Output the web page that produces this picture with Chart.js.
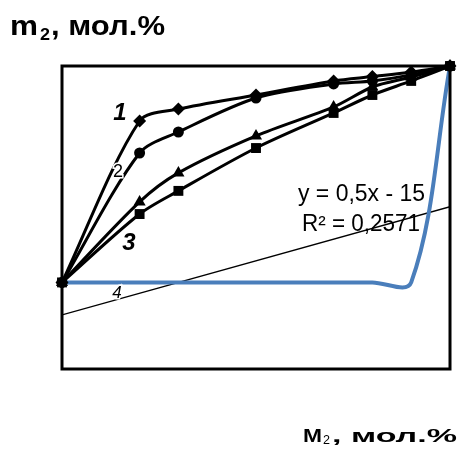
<!DOCTYPE html>
<html>
<head>
<meta charset="utf-8">
<script src="https://cdn.jsdelivr.net/npm/chart.js@4.4.0/dist/chart.umd.min.js"></script>
<style>
  html, body { margin: 0; padding: 0; background: #fff; }
  #wrap { position: relative; width: 457px; height: 450px; }
</style>
</head>
<body>
<div id="wrap"><canvas id="chart" width="457" height="450"></canvas></div>
<script>
// data (x = M2, y = m2, mol.%)
const xValues = [0, 20, 30, 50, 70, 80, 90, 100];
const diamonds = [0, 74.6, 80.1, 86.6, 93.1, 95.1, 97.2, 100];
const circles = [0, 59.8, 69.5, 85.2, 91.7, 93.1, 95.9, 100];
const triangles = [0, 37.2, 50.6, 67.7, 81.1, 90.3, 94.9, 100];
const squares = [0, 31.6, 42.3, 62.1, 78.3, 86.6, 93.1, 100];
const blueCurve = [0, 0, 0, 0, 0, 0, 0, 100];
const trendX = [0, 100];
const trendY = [-15, 35];
const curveLabels = ['1', '2', '3', '4'];

const FONT = '"Liberation Sans", Arial, sans-serif';

function pts(xs, ys) {
    return xs.map((x, i) => ({ x: x, y: ys[i] }));
}

function blackSeries(ys, style, radius) {
    return {
        data: pts(xValues, ys),
        borderColor: '#000',
        backgroundColor: '#000',
        borderWidth: 3,
        pointStyle: style,
        pointRadius: radius,
        pointBorderWidth: 0,
        tension: 0.3,
        clip: false
    };
}

// draw text squeezed/stretched to a given width
function fitText(ctx, text, font, x, y, width) {
    ctx.font = font;
    const w = ctx.measureText(text).width;
    ctx.save();
    ctx.translate(x, y);
    ctx.scale(width / w, 1);
    ctx.fillText(text, 0, 0);
    ctx.restore();
}

// frame + free text
const extras = {
    id: 'extras',
    afterDatasetsDraw(chart) {
        const ctx = chart.ctx;
        const a = chart.chartArea;
        ctx.save();
        ctx.strokeStyle = '#000';
        ctx.lineWidth = 3;
        ctx.strokeRect(a.left, a.top, a.right - a.left, a.bottom - a.top);

        ctx.fillStyle = '#000';
        ctx.textBaseline = 'alphabetic';
        ctx.textAlign = 'left';
        fitText(ctx, 'y = 0,5x - 15', '23px ' + FONT, 298, 201, 127);
        fitText(ctx, 'R² = 0,2571', '23px ' + FONT, 302, 231, 118);

        ctx.textAlign = 'center';
        ctx.textBaseline = 'middle';
        ctx.font = 'italic bold 24px ' + FONT;
        ctx.fillText(curveLabels[0], 120, 113);
        ctx.fillText(curveLabels[2], 129, 243);

        ctx.lineWidth = 3;
        ctx.strokeStyle = '#fff';
        ctx.font = 'normal 18px ' + FONT;
        ctx.strokeText(curveLabels[1], 118, 172);
        ctx.fillText(curveLabels[1], 118, 172);
        ctx.font = 'italic 17px ' + FONT;
        ctx.strokeText(curveLabels[3], 117, 293);
        ctx.fillText(curveLabels[3], 117, 293);

        // axis captions
        ctx.textAlign = 'left';
        ctx.textBaseline = 'alphabetic';
        fitText(ctx, 'm', 'bold 27px ' + FONT, 10, 35, 28);
        fitText(ctx, '2', 'bold 17px ' + FONT, 40, 40, 10);
        fitText(ctx, ', мол.%', 'bold 27px ' + FONT, 51, 35, 114);

        fitText(ctx, 'M', 'bold 18px ' + FONT, 303, 442, 19);
        fitText(ctx, '2', '13px ' + FONT, 323, 444, 7);
        fitText(ctx, ', мол.%', 'bold 18px ' + FONT, 332, 442, 125);
        ctx.restore();
    }
};

new Chart(document.getElementById('chart'), {
    type: 'scatter',
    data: {
        datasets: [
            Object.assign(blackSeries(squares, 'rect', 7), { order: 1 }),
            Object.assign(blackSeries(triangles, 'triangle', 7), { order: 2 }),
            Object.assign(blackSeries(circles, 'circle', 5.5), { order: 3 }),
            Object.assign(blackSeries(diamonds, 'rectRot', 6.5), { order: 4 }),
            {
                data: pts(xValues, blueCurve),
                borderColor: '#4a7ebb',
                borderWidth: 4,
                pointRadius: 0,
                tension: 0.35,
                clip: false,
                order: 5
            },
            {
                data: pts(trendX, trendY),
                borderColor: '#000',
                borderWidth: 1.4,
                pointRadius: 0,
                order: 6
            }
        ].map(d => Object.assign({ showLine: true }, d))
    },
    options: {
        responsive: false,
        animation: false,
        events: [],
        layout: { padding: { left: 62, right: 4, top: 66, bottom: 81 } },
        plugins: { legend: { display: false }, tooltip: { enabled: false } },
        scales: {
            x: { type: 'linear', min: 0, max: 100, display: false },
            y: { type: 'linear', min: -40, max: 100, display: false }
        }
    },
    plugins: [extras]
});
</script>
</body>
</html>
